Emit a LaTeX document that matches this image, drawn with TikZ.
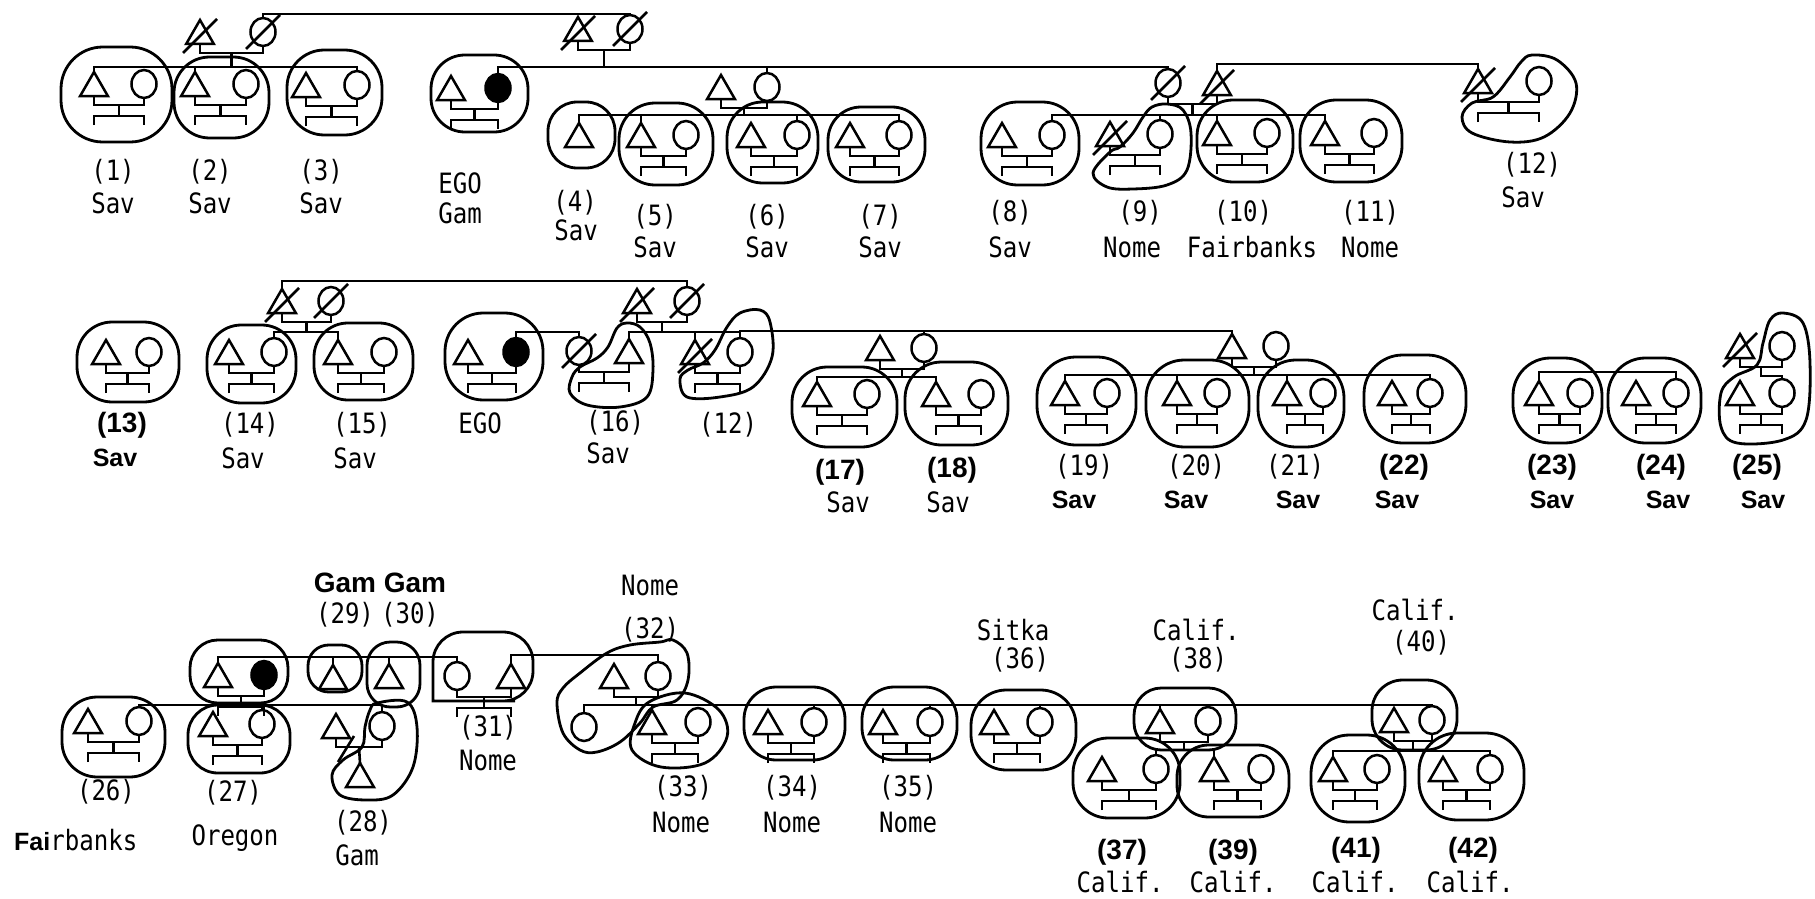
\documentclass[tikz,border=0pt]{standalone}
\usepackage{fontspec}
\usetikzlibrary{shapes.geometric,calc}
\newfontfamily\monof[FakeStretch=0.86]{DejaVu Sans Mono}
\newfontfamily\sansf{Liberation Sans}
\tikzset{
 ln/.style={line width=2.6pt},
 sym/.style={draw, line width=2.5pt, inner sep=0pt, outer sep=0pt},
 tri/.style={sym, regular polygon, regular polygon sides=3, minimum size=32pt, yshift=-4pt},
 cir/.style={sym, ellipse, minimum width=25pt, minimum height=28pt},
 blk/.style={fill=black},
 loopst/.style={line width=2.8pt},
 mono/.style={inner sep=0pt, font=\monof\fontsize{28}{32}\selectfont},
 bnum/.style={inner sep=0pt, font=\sansf\bfseries\fontsize{28}{32}\selectfont},
 bsav/.style={inner sep=0pt, font=\sansf\bfseries\fontsize{25}{30}\selectfont},
}
\newcommand\KHouse[5][]{%
 \node[tri] (#2t) at (#3,#5) {};
 \node[cir,#1] (#2c) at (#4,#5) {};
 \draw[ln] (#2t.side 2) -- ++(0,9) coordinate (#2b) -| (#2c.south);
 \coordinate (#2m) at ($(#2b)!.5!(#2b-|#2c)$);
 \draw[ln] (#2m) -- ++(0,11) coordinate (#2k);
 \coordinate (#2kl) at (#2k-|#2t);
 \coordinate (#2kr) at (#2k-|#2c);
 \draw[ln] ([yshift=-9pt]#2kl) -- (#2kl) -- (#2kr) -- ([yshift=-9pt]#2kr);
}
\newcommand\KPair[5][]{%
 \node[tri] (#2t) at (#3,#5) {};
 \node[cir,#1] (#2c) at (#4,#5) {};
 \draw[ln] (#2t.side 2) -- ++(0,9) coordinate (#2b) -| (#2c.south);
 \coordinate (#2m) at ($(#2b)!.5!(#2b-|#2c)$);
}
\newcommand\KCross[1]{\draw[ln] ([shift={(-17,17)}]#1.center) -- ([shift={(17,-17)}]#1.center);}
\newcommand\KDrop[2]{\draw[ln] (#1) -- (#1|-#2);}
\newcommand\KLoop[5]{\pgfmathsetmacro\rr{0.44*min(#3-#1,#4-#2)}\draw[loopst, rounded corners=\rr pt] (#1,#2) rectangle (#3,#4);}
\begin{document}
\begin{tikzpicture}[x=1pt,y=-1pt]
\useasboundingbox (0,0) rectangle (1815,899);
\fill[white] (0,0) rectangle (1815,899);
% ---------------- ROW 1 ----------------
\KPair{pA}{200}{263}{32} \KCross{pAt} \KCross{pAc}
\KPair{pB}{578}{630}{29} \KCross{pBt} \KCross{pBc}
\KHouse{h1}{94}{144}{84}
\KHouse{h2}{195}{246}{84}
\KHouse{h3}{306}{357}{85}
\KHouse[blk]{e1}{451}{498}{88}
\KPair{pD}{721}{767}{87}
\node[tri] (h4t) at (579,135) {};
\KHouse{h5}{641}{686}{135}
\KHouse{h6}{751}{797}{135}
\KHouse{h7}{850}{899}{135}
\KPair{pC}{1217}{1168}{83} \KCross{pCt} \KCross{pCc}
\KHouse{h8}{1002}{1052}{135}
\KHouse{h9}{1110}{1160}{134} \KCross{h9t}
\KHouse{h10}{1217}{1267}{133}
\KHouse{h11}{1325}{1374}{133}
\KHouse{h12}{1478}{1539}{81} \KCross{h12t}
\coordinate (lvT1) at (0,14);
\coordinate (lvA) at (0,67);
\coordinate (lvD) at (0,115);
\coordinate (lvC) at (0,115);
\coordinate (lvE) at (0,64);
\draw[ln] (pAc.north) -- (pAc.north|-lvT1) -| (pBc.north);
\draw[ln] (h1t.corner 1) -- (h1t.corner 1|-lvA) -- (h3c.north|-lvA) -- (h3c.north);
\KDrop{h2t.corner 1}{lvA}
\KDrop{pAm}{lvA}
\draw[ln] (e1c.north) -- (e1c.north|-lvA) -| (pCc.north);
\KDrop{pBm}{lvA}
\KDrop{pDc.north}{lvA}
\draw[ln] (h4t.corner 1) -- (h4t.corner 1|-lvD) -- (h7c.north|-lvD) -- (h7c.north);
\KDrop{h5t.corner 1}{lvD}
\KDrop{h6c.north}{lvD}
\KDrop{pDm}{lvD}
\draw[ln] (h8c.north) -- (h8c.north|-lvC) -- (h11t.corner 1|-lvC) -- (h11t.corner 1);
\KDrop{h9c.north}{lvC}
\KDrop{h10t.corner 1}{lvC}
\KDrop{pCm}{lvC}
\draw[ln] (pCt.corner 1) -- (pCt.corner 1|-lvE) -| (h12t.corner 1);
% loops row 1
\KLoop{61}{47}{172}{142}{}
\KLoop{174}{57}{269}{138}{}
\KLoop{287}{50}{382}{135}{}
\KLoop{431}{55}{528}{132}{}
\KLoop{548}{102}{615}{168}{}
\KLoop{619}{103}{713}{185}{}
\KLoop{727}{102}{818}{183}{}
\KLoop{828}{107}{925}{182}{}
\KLoop{981}{102}{1079}{185}{}
\KLoop{1197}{100}{1293}{182}{}
\KLoop{1300}{100}{1402}{182}{}
\draw[loopst] plot[smooth cycle, tension=0.6] coordinates {(1110,152) (1093,173) (1107,187) (1133,189) (1167,185) (1187,170) (1191,133) (1183,110) (1167,104) (1152,107) (1143,117) (1133,133) (1120,147)};
\draw[loopst] plot[smooth cycle, tension=0.6] coordinates {(1532,55) (1557,60) (1576,83) (1570,113) (1544,137) (1510,142) (1472,133) (1462,117) (1472,103) (1493,97) (1510,77) (1521,62)};
% labels row 1
\node[mono] (a1) at (113,172) {(1)}; \node[mono] (b1) at (113,203) {Sav};
\node[mono] (a2) at (210,172) {(2)}; \node[mono] (b2) at (210,203) {Sav};
\node[mono] (a3) at (321,172) {(3)}; \node[mono] (b3) at (321,203) {Sav};
\node[mono] (ae1) at (460,183) {EGO}; \node[mono] (be1) at (460,213) {Gam};
\node[mono] (a4) at (575,203) {(4)}; \node[mono] (b4) at (576,230) {Sav};
\node[mono] (a5) at (655,217) {(5)}; \node[mono] (b5) at (655,247) {Sav};
\node[mono] (a6) at (767,217) {(6)}; \node[mono] (b6) at (767,247) {Sav};
\node[mono] (a7) at (880,217) {(7)}; \node[mono] (b7) at (880,247) {Sav};
\node[mono] (a8) at (1010,213) {(8)}; \node[mono] (b8) at (1010,247) {Sav};
\node[mono] (a9) at (1140,213) {(9)}; \node[mono] (b9) at (1132,247) {Nome};
\node[mono] (a10) at (1243,213) {(10)}; \node[mono] (b10) at (1252,247) {Fairbanks};
\node[mono] (a11) at (1370,213) {(11)}; \node[mono] (b11) at (1370,247) {Nome};
\node[mono] (a12) at (1532,165) {(12)}; \node[mono] (b12) at (1523,197) {Sav};
% ---------------- ROW 2 ----------------
\KPair{pF}{282}{331}{301} \KCross{pFt} \KCross{pFc}
\KPair{pG}{637}{687}{301} \KCross{pGt} \KCross{pGc}
\KHouse{h13}{106}{149}{352}
\KHouse{h14}{229}{274}{352}
\KHouse{h15}{338}{384}{352}
\KHouse[blk]{e2}{468}{516}{352}
\KHouse{h16}{629}{579}{351} \KCross{h16c}
\KHouse{h12b}{695}{740}{352} \KCross{h12bt}
\KPair{pH}{880}{924}{348}
\KPair{pI}{1232}{1276}{346}
\KHouse{h17}{817}{867}{394}
\KHouse{h18}{936}{981}{394}
\KHouse{h19}{1065}{1107}{393}
\KHouse{h20}{1177}{1217}{393}
\KHouse{h21}{1287}{1323}{393}
\KHouse{h22}{1392}{1430}{393}
\KHouse{h23}{1539}{1580}{393}
\KHouse{h24}{1636}{1676}{393}
\KPair{pJ}{1740}{1782}{346} \KCross{pJt}
\KHouse{h25}{1740}{1782}{393}
\coordinate (lvT2) at (0,281);
\coordinate (lvF) at (0,332);
\coordinate (lvH) at (0,331);
\coordinate (lvH2) at (0,377);
\coordinate (lvI) at (0,375);
\coordinate (lv23) at (0,372);
\draw[ln] (pFt.corner 1) -- (pFt.corner 1|-lvT2) -| (pGc.north);
\draw[ln] (h14c.north) -- (h14c.north|-lvF) -- (h15t.corner 1|-lvF) -- (h15t.corner 1);
\KDrop{pFm}{lvF}
\draw[ln] (e2c.north) -- (e2c.north|-lvF) -| (h16c.north);
\draw[ln] (h16t.corner 1) -- (h16t.corner 1|-lvF) -- (h12bc.north|-lvF);
\KDrop{h12bt.corner 1}{lvF}
\KDrop{pGm}{lvF}
\draw[ln] (h12bc.north) -- (h12bc.north|-lvH) -- (pIt.corner 1|-lvH) -- (pIt.corner 1);
\KDrop{pHc.north}{lvH}
\draw[ln] (h17t.corner 1) -- (h17t.corner 1|-lvH2) -- (h18t.corner 1|-lvH2) -- (h18t.corner 1);
\KDrop{pHm}{lvH2}
\draw[ln] (h19t.corner 1) -- (h19t.corner 1|-lvI) -- (h22c.north|-lvI) -- (h22c.north);
\KDrop{h20t.corner 1}{lvI}
\KDrop{h21t.corner 1}{lvI}
\KDrop{pIm}{lvI}
\draw[ln] (h23t.corner 1) -- (h23t.corner 1|-lv23) -- (h24c.north|-lv23) -- (h24c.north);
\draw[ln] (pJm) -- ++(0,9) -| (h25c.north);
% loops row 2
\KLoop{77}{322}{179}{402}{}
\KLoop{207}{325}{296}{403}{}
\KLoop{314}{323}{413}{400}{}
\KLoop{445}{313}{543}{400}{}
\KLoop{792}{367}{897}{447}{}
\KLoop{905}{362}{1008}{445}{}
\KLoop{1037}{357}{1136}{445}{}
\KLoop{1146}{360}{1249}{447}{}
\KLoop{1258}{360}{1344}{447}{}
\KLoop{1364}{355}{1466}{443}{}
\KLoop{1513}{358}{1602}{443}{}
\KLoop{1608}{358}{1701}{443}{}
\draw[loopst] plot[smooth cycle, tension=0.6] coordinates {(572,377) (570,393) (587,405) (620,407) (647,397) (653,370) (650,343) (640,327) (627,323) (617,328) (608,347) (597,358) (580,367)};
\draw[loopst] plot[smooth cycle, tension=0.6] coordinates {(680,379) (687,397) (720,397) (753,387) (772,357) (770,322) (760,310) (740,313) (727,327) (715,350) (703,363) (688,370)};
\draw[loopst] plot[smooth cycle, tension=0.6] coordinates {(1783,313) (1803,323) (1810,363) (1806,420) (1783,440) (1737,443) (1721,427) (1721,393) (1734,377) (1757,365) (1763,343) (1770,320)};
% labels row 2
\node[bnum] (a13) at (122,425) {(13)}; \node[bsav] (b13) at (115,458) {Sav};
\node[mono] (a14) at (250,425) {(14)}; \node[mono] (b14) at (243,458) {Sav};
\node[mono] (a15) at (362,425) {(15)}; \node[mono] (b15) at (355,458) {Sav};
\node[mono] (ae2) at (480,423) {EGO};
\node[mono] (a16) at (615,423) {(16)}; \node[mono] (b16) at (608,453) {Sav};
\node[mono] (a12b) at (728,425) {(12)};
\node[bnum] (a17) at (840,472) {(17)}; \node[mono] (b17) at (848,502) {Sav};
\node[bnum] (a18) at (952,470) {(18)}; \node[mono] (b18) at (948,502) {Sav};
\node[mono] (a19) at (1084,467) {(19)}; \node[bsav] (b19) at (1074,500) {Sav};
\node[mono] (a20) at (1196,467) {(20)}; \node[bsav] (b20) at (1186,500) {Sav};
\node[mono] (a21) at (1295,467) {(21)}; \node[bsav] (b21) at (1298,500) {Sav};
\node[bnum] (a22) at (1404,467) {(22)}; \node[bsav] (b22) at (1397,500) {Sav};
\node[bnum] (a23) at (1552,467) {(23)}; \node[bsav] (b23) at (1552,500) {Sav};
\node[bnum] (a24) at (1661,467) {(24)}; \node[bsav] (b24) at (1668,500) {Sav};
\node[bnum] (a25) at (1757,467) {(25)}; \node[bsav] (b25) at (1763,500) {Sav};
% ---------------- ROW 3 ----------------
\KHouse[blk]{e3}{218}{264}{675}
\node[tri] (h29t) at (333,677) {};
\node[tri] (h30t) at (389,676) {};
\KHouse{h31}{511}{457}{676}
\KPair{h32}{614}{658}{676}
\node[cir] (k32) at (584,727) {};
\KHouse{h26}{88}{139}{721}
\KHouse{h27}{213}{262}{724}
\KPair{h28}{336}{382}{726}
\node[tri] (k28) at (360,775) {};
\KHouse{h33}{652}{698}{722}
\KHouse{h34}{768}{814}{722}
\KHouse{h35}{883}{930}{722}
\KHouse{h36}{994}{1040}{722}
\KPair{h38}{1160}{1208}{721}
\KHouse{h37}{1102}{1156}{769}
\KHouse{h39}{1214}{1261}{769}
\KPair{h40}{1394}{1432}{720}
\KHouse{h41}{1333}{1377}{769}
\KHouse{h42}{1443}{1490}{769}
\coordinate (lvT3) at (0,657);
\coordinate (lvT3b) at (0,655);
\coordinate (lvS3) at (0,705);
\coordinate (lvS3b) at (0,705);
\coordinate (lv38) at (0,750);
\coordinate (lv40) at (0,751);
\draw[ln] (e3t.corner 1) -- (e3t.corner 1|-lvT3) -- (h31c.north|-lvT3) -- (h31c.north);
\KDrop{h29t.corner 1}{lvT3}
\KDrop{h30t.corner 1}{lvT3}
\draw[ln] (h31t.corner 1) -- (h31t.corner 1|-lvT3b) -| (h32c.north);
\draw[ln] (h26c.north) -- (h26c.north|-lvS3) -- (h28c.north|-lvS3) -- (h28c.north);
\KDrop{e3m}{lvS3}
\KDrop{h27c.north}{lvS3}
\draw[ln] (h28m) -- (k28.corner 1);
\draw[ln] (338,762) -- (354,736);
\draw[ln] (k32.north) -- (k32.north|-lvS3b) -- (h40c.north|-lvS3b) -- (h40c.north);
\KDrop{h32m}{lvS3b}
\KDrop{h33t.corner 1}{lvS3b}
\KDrop{h34c.north}{lvS3b}
\KDrop{h35c.north}{lvS3b}
\KDrop{h36c.north}{lvS3b}
\KDrop{h38t.corner 1}{lvS3b}
\draw[ln] (h37c.north) -- (h37c.north|-lv38) -- (h39t.corner 1|-lv38) -- (h39t.corner 1);
\KDrop{h38m}{lv38}
\draw[ln] (h41t.corner 1) -- (h41t.corner 1|-lv40) -- (h42c.north|-lv40) -- (h42c.north);
\KDrop{h40m}{lv40}
% loops row 3
\KLoop{190}{640}{288}{703}{}
\KLoop{62}{697}{165}{777}{}
\KLoop{188}{705}{290}{773}{}
\KLoop{308}{645}{362}{692}{}
\KLoop{367}{642}{420}{707}{}
\draw[loopst] (485,701) -- (433,701) [rounded corners=30] -- (433,632) -- (533,632) -- (533,701) -- cycle;
\draw[loopst] plot[smooth cycle, tension=0.6] coordinates {(557,703) (563,733) (580,750) (597,752) (620,742) (640,723) (653,707) (677,700) (688,680) (687,653) (673,640) (660,642) (630,645) (607,653) (580,673) (563,688)};
\draw[loopst] plot[smooth cycle, tension=0.6] coordinates {(649,702) (685,693) (719,710) (727,737) (705,763) (661,767) (632,750) (635,723)};
\draw[loopst] plot[smooth cycle, tension=0.6] coordinates {(377,703) (407,702) (417,727) (413,767) (393,795) (367,800) (340,795) (332,775) (343,760) (362,747) (365,727) (370,710)};
\KLoop{744}{687}{845}{760}{}
\KLoop{862}{687}{957}{760}{}
\KLoop{971}{690}{1076}{770}{}
\KLoop{1134}{688}{1236}{750}{}
\KLoop{1073}{738}{1180}{818}{}
\KLoop{1177}{745}{1289}{817}{}
\KLoop{1372}{680}{1457}{750}{}
\KLoop{1311}{735}{1405}{822}{}
\KLoop{1419}{733}{1524}{820}{}
% labels row 3
\node[bnum] (gg) at (380,583) {Gam Gam};
\node[mono] (a29) at (345,615) {(29)}; \node[mono] (a30) at (410,615) {(30)};
\node[mono] (c32) at (650,585) {Nome}; \node[mono] (a32) at (650,630) {(32)};
\node[mono] (a31) at (488,728) {(31)}; \node[mono] (b31) at (488,760) {Nome};
\node[mono] (a26) at (106,792) {(26)};
\node[inner sep=0pt, anchor=west] (b26) at (14,840) {{\sansf\bfseries\fontsize{25}{30}\selectfont Fai}{\monof\fontsize{28}{32}\selectfont rbanks}};
\node[mono] (a27) at (233,793) {(27)}; \node[mono] (b27) at (235,838) {Oregon};
\node[mono] (a28) at (363,823) {(28)}; \node[mono] (b28) at (357,855) {Gam};
\node[mono] (a33) at (683,788) {(33)}; \node[mono] (b33) at (681,822) {Nome};
\node[mono] (a34) at (792,788) {(34)}; \node[mono] (b34) at (792,822) {Nome};
\node[mono] (a35) at (908,788) {(35)}; \node[mono] (b35) at (908,822) {Nome};
\node[mono] (c36) at (1013,630) {Sitka}; \node[mono] (a36) at (1020,660) {(36)};
\node[mono] (c38) at (1196,630) {Calif.}; \node[mono] (a38) at (1198,660) {(38)};
\node[bnum] (a37) at (1122,852) {(37)}; \node[mono] (b37) at (1120,882) {Calif.};
\node[bnum] (a39) at (1233,852) {(39)}; \node[mono] (b39) at (1233,882) {Calif.};
\node[mono] (c40) at (1415,610) {Calif.}; \node[mono] (a40) at (1421,643) {(40)};
\node[bnum] (a41) at (1356,850) {(41)}; \node[mono] (b41) at (1355,882) {Calif.};
\node[bnum] (a42) at (1473,850) {(42)}; \node[mono] (b42) at (1470,882) {Calif.};
\end{tikzpicture}
\end{document}
